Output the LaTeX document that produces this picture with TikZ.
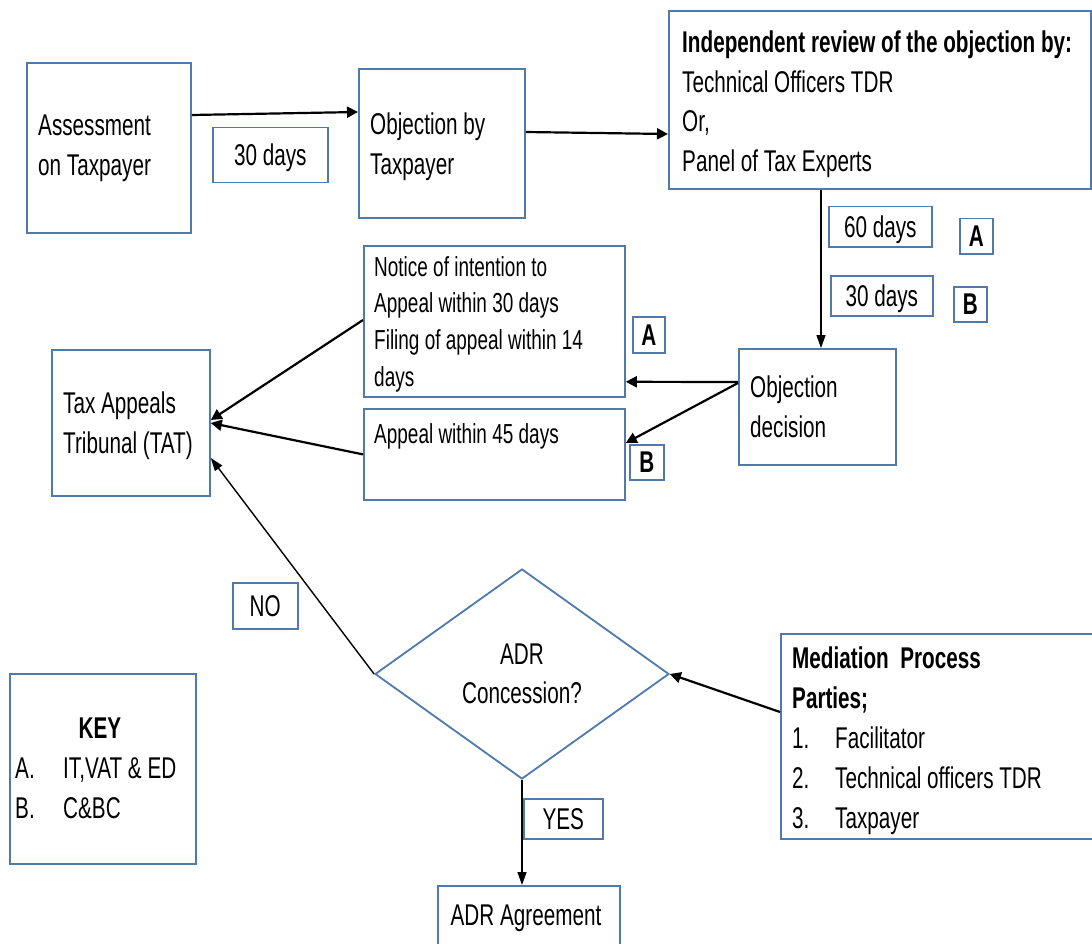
\documentclass[tikz,border=0pt]{standalone}
\usepackage{fontspec}
\setmainfont{Liberation Sans}[FakeStretch=0.69]
\usetikzlibrary{calc,arrows.meta,shapes.geometric}
\definecolor{boxblue}{HTML}{4F7AAB}
\tikzset{
  box/.style={draw=boxblue, line width=1.8pt, anchor=north west, inner sep=0pt},
  tag/.style={draw=boxblue, line width=1.5pt, anchor=north west, inner sep=0pt, text height=21pt, text depth=0pt},
  boldtag/.style={tag, font=\fontsize{30}{36}\selectfont\bfseries},
  dia/.style={diamond, draw=boxblue, line width=1.8pt, inner sep=0pt, align=center},
  txt/.style={anchor=north west, inner sep=0pt, align=left},
  small/.style={font=\fontsize{27.5}{36.7}\selectfont},
  flow/.style={-{Triangle[length=11pt,width=11pt]}, line width=2.2pt},
  thinflow/.style={-{Triangle[length=13pt,width=9pt]}, line width=1.4pt},
  every node/.style={font=\fontsize{30}{39.5}\selectfont}
}
\begin{document}
\begin{tikzpicture}[x=1pt,y=-1pt]
  \useasboundingbox (0,0) rectangle (1092,944);
  \fill[white] (0,0) rectangle (1092,944);

  % top row
  \node[box, minimum width=164, minimum height=170] (assess) at (26,62) {};
  \node[txt] (assesstxt) at (38,115) {Assessment\\on Taxpayer};
  \node[tag, minimum width=115, minimum height=55] (days1) at (212,127) {30 days};
  \node[box, minimum width=166, minimum height=149] (objtax) at (358,68) {};
  \node[txt] (objtaxtxt) at (370,113) {Objection by\\Taxpayer};
  \node[box, minimum width=422, minimum height=178] (indep) at (668,10) {};
  \node[txt] (indeptxt) at (682,31) {\textbf{Independent review of the objection by:}\\Technical Officers TDR\\Or,\\Panel of Tax Experts};
  \node[tag, minimum width=103, minimum height=40] (days2) at (828,206) {60 days};
  \node[boldtag, minimum width=33, minimum height=35] (taga2) at (959,218) {A};
  \node[tag, minimum width=102, minimum height=40] (days3) at (830,275) {30 days};
  \node[boldtag, minimum width=33, minimum height=35] (tagb2) at (953,286) {B};

  % middle row
  \node[box, minimum width=157, minimum height=116] (objdec) at (738,348) {};
  \node[txt] (objdectxt) at (750,376) {Objection\\decision};
  \node[box, minimum width=261, minimum height=151] (notice) at (363,245) {};
  \node[txt, small] (noticetxt) at (374,256) {Notice of intention to\\Appeal within 30 days\\Filing of appeal within 14\\days};
  \node[boldtag, minimum width=32, minimum height=36] (taga1) at (632,316) {A};
  \node[box, minimum width=261, minimum height=91] (appeal) at (363,408) {};
  \node[txt, small] (appealtxt) at (374,423) {Appeal within 45 days};
  \node[boldtag, minimum width=34, minimum height=35] (tagb1) at (629,444) {B};
  \node[box, minimum width=158, minimum height=146] (tat) at (51,349) {};
  \node[txt] (tattxt) at (63,392) {Tax Appeals\\Tribunal (TAT)};

  % bottom row
  \node[tag, minimum width=65, minimum height=46] (no) at (232,582) {NO};
  \node[dia, minimum width=294, minimum height=210] (adr) at (522,674) {ADR\\Concession?};
  \node[tag, minimum width=79, minimum height=40] (yes) at (523,798) {YES};
  \node[box, minimum width=182, minimum height=80] (agree) at (437,885) {};
  \node[anchor=north, inner sep=0pt] (agreetxt) at (526,905) {ADR Agreement};
  \node[box, minimum width=316, minimum height=205] (med) at (780,633) {};
  \node[txt, font=\fontsize{30}{40}\selectfont] (medtxt) at (792,647) {\textbf{Mediation\ \ Process}\\\textbf{Parties;}\\\makebox[43pt][l]{1.}Facilitator\\\makebox[43pt][l]{2.}Technical officers TDR\\\makebox[43pt][l]{3.}Taxpayer};

  % key
  \node[box, minimum width=186, minimum height=190] (key) at (9,673) {};
  \node[anchor=north, inner sep=0pt, font=\fontsize{30}{39.5}\selectfont\bfseries] (keyhead) at (100,718) {KEY};
  \node[txt] (keytxt) at (15,758) {\makebox[48pt][l]{A.}IT,VAT \& ED\\\makebox[48pt][l]{B.}C\&BC};

  % connectors
  \draw[flow] ($(assess.north east)+(0,53)$) -- ($(objtax.north west)+(0,44)$);
  \draw[flow] ($(objtax.north east)+(0,64)$) -- ($(indep.north west)+(0,124)$);
  \draw[thinflow] ($(indep.south west)+(153,0)$) -- ($(objdec.north west)+(83,0)$);
  \draw[flow] ($(objdec.north west)+(0,34)$) -- ($(notice.south east)+(0,-16)$);
  \draw[flow] ($(objdec.north west)+(0,35)$) -- ($(appeal.north east)+(0,35)$);
  \draw[flow] ($(notice.north west)+(0,75)$) -- ($(tat.north east)+(0,71)$);
  \draw[flow] (appeal.west) -- ($(tat.north east)+(0,74)$);
  \draw[thinflow] (adr.west) -- ($(tat.north east)+(0,109)$);
  \draw[thinflow] (adr.south) -- (adr.south |- agree.north);
  \draw[flow] ($(med.north west)+(0,79)$) -- (adr.east);
\end{tikzpicture}
\end{document}
